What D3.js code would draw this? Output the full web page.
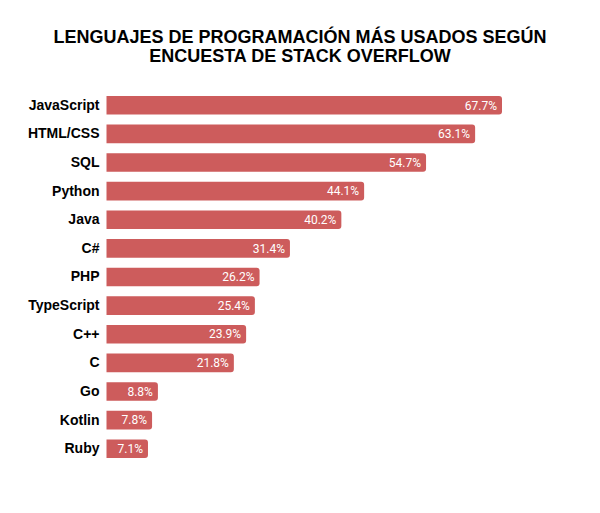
<!DOCTYPE html>
<html>
<head>
<meta charset="utf-8">
<script src="https://cdn.jsdelivr.net/npm/d3@7"></script>
<style>
  html, body { margin: 0; padding: 0; background: #ffffff; }
  svg { display: block; }
</style>
</head>
<body>
<svg id="chart" width="600" height="513"></svg>
<script>
const titleLines = ["LENGUAJES DE PROGRAMACIÓN MÁS USADOS SEGÚN", "ENCUESTA DE STACK OVERFLOW"];
const languages = ["JavaScript", "HTML/CSS", "SQL", "Python", "Java", "C#", "PHP", "TypeScript", "C++", "C", "Go", "Kotlin", "Ruby"];
const usage = [67.7, 63.1, 54.7, 44.1, 40.2, 31.4, 26.2, 25.4, 23.9, 21.8, 8.8, 7.8, 7.1];

const svg = d3.select("#chart");
const color = "#cd5c5c";

svg.append("text")
  .attr("x", 300)
  .attr("text-anchor", "middle")
  .style("font-family", "'Liberation Sans', Arial, sans-serif")
  .style("font-weight", "bold")
  .style("font-size", "18px")
  .attr("fill", "#000")
  .selectAll("tspan")
  .data(titleLines)
  .join("tspan")
  .attr("x", 300)
  .attr("y", (d, i) => 43 + i * 18.5)
  .text(d => d);

const x = d3.scaleLinear().domain([0, 67.7]).range([106.5, 502]);
const y = d3.scaleBand().domain(languages).range([91, 463]).paddingInner(0.35).paddingOuter(0.175);

const data = languages.map((l, i) => ({ lang: l, v: usage[i] }));

function barPath(d) {
  const x0 = x(0), x1 = x(d.v), y0 = y(d.lang), h = y.bandwidth(), r = 3;
  return `M${x0},${y0}H${x1 - r}A${r},${r} 0 0 1 ${x1},${y0 + r}V${y0 + h - r}A${r},${r} 0 0 1 ${x1 - r},${y0 + h}H${x0}Z`;
}

svg.append("g").selectAll("path")
  .data(data)
  .join("path")
  .attr("d", barPath)
  .attr("fill", color);

const yAxis = d3.axisLeft(y).tickSize(0).tickPadding(7);
const gy = svg.append("g").attr("transform", `translate(${x(0)},0)`).call(yAxis);
gy.select(".domain").remove();
gy.selectAll("text")
  .style("font-family", "'Liberation Sans', Arial, sans-serif")
  .style("font-weight", "bold")
  .style("font-size", "14px")
  .attr("fill", "#000");

svg.append("g").selectAll("text")
  .data(data)
  .join("text")
  .attr("x", d => x(d.v) - 5)
  .attr("y", d => y(d.lang) + y.bandwidth() / 2)
  .attr("dy", "0.35em")
  .attr("text-anchor", "end")
  .style("font-family", "Roboto, sans-serif")
  .style("font-size", "12px")
  .attr("fill", "#fff")
  .text(d => d.v.toFixed(1) + "%");
</script>
</body>
</html>
